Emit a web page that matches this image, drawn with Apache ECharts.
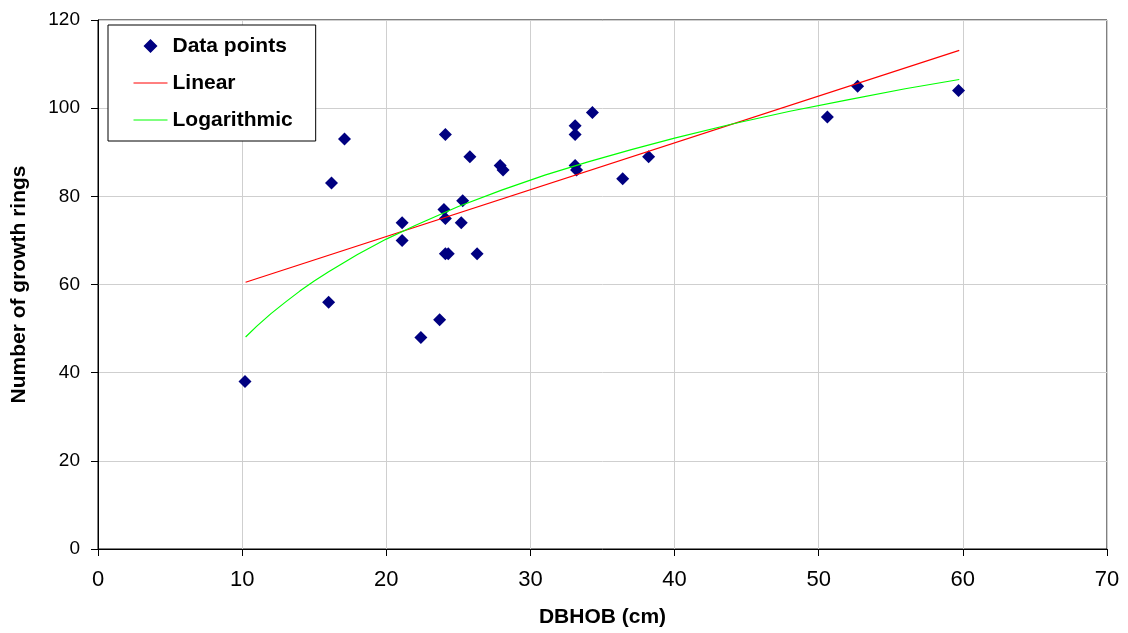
<!DOCTYPE html>
<html><head><meta charset="utf-8">
<script src="https://cdn.jsdelivr.net/npm/echarts@6/dist/echarts.min.js"></script>
<style>html,body{margin:0;padding:0;background:#fff;overflow:hidden}#c{width:1128px;height:633px}</style>
</head><body><div id="c"></div>
<script>
// Data points: DBHOB (cm) and number of growth rings
const dbhob = [10.2, 16.0, 16.2, 17.1, 21.1, 21.1, 22.4, 23.7, 24.1, 24.0, 24.1, 24.1, 24.3, 25.2, 25.3, 25.8, 26.3, 27.9, 28.1, 33.1, 33.1, 33.1, 33.2, 34.3, 36.4, 38.2, 50.6, 52.7, 59.7];
const rings = [38, 56, 83, 93, 74, 70, 48, 52, 94, 77, 75, 67, 67, 74, 79, 89, 67, 87, 86, 96, 94, 87, 86, 99, 84, 89, 98, 105, 104];

// Linear trend line (read end points)
const linearX = [10.24, 59.75];
const linearY = [60.5, 113.1];

// Logarithmic trend line
const logX = [10.24, 11, 12, 13, 14, 15, 16, 18, 20, 22, 25, 28, 31, 34, 37, 40, 44, 48, 52, 56, 59.75];
const logY = [48.1, 50.5, 53.4, 56.0, 58.5, 60.8, 62.9, 66.8, 70.3, 73.4, 77.7, 81.4, 84.8, 87.8, 90.6, 93.2, 96.4, 99.3, 101.9, 104.4, 106.5];

const seriesNames = ['Data points', 'Linear', 'Logarithmic'];
const xTitle = 'DBHOB (cm)';
const yTitle = 'Number of growth rings';

const FONT = "'Liberation Sans', Arial, sans-serif";
const zip = (a, b) => a.map((v, i) => [v, b[i]]);

const chart = echarts.init(document.getElementById('c'), null, {renderer: 'canvas'});
chart.setOption({
  animation: false,
  backgroundColor: '#fff',
  textStyle: {fontFamily: FONT},
  grid: {left: 98, right: 21, top: 20, bottom: 79, show: true, borderColor: '#000', borderWidth: 1, backgroundColor: 'transparent'},
  legend: {
    left: 108, top: 25,
    orient: 'vertical',
    backgroundColor: '#fff',
    borderColor: '#000', borderWidth: 1, borderRadius: 0,
    padding: [10, 23, 10, 25],
    itemWidth: 34, itemHeight: 14, itemGap: 15,
    textStyle: {fontFamily: FONT, fontSize: 21, fontWeight: 'bold', color: '#000', lineHeight: 22},
    data: [
      {name: seriesNames[0], icon: 'path://M0,0 L0.01,0 M34,14 L33.99,14 M17,0 L24,7 L17,14 L10,7 Z', itemStyle: {color: '#000080', borderWidth: 0}},
      {name: seriesNames[1], icon: 'line', itemStyle: {color: '#ff0000', borderColor: '#ff0000', borderWidth: 1}},
      {name: seriesNames[2], icon: 'line', itemStyle: {color: '#00ff00', borderColor: '#00ff00', borderWidth: 1}}
    ]
  },
  xAxis: {
    type: 'value', min: 0, max: 70, interval: 10,
    name: xTitle, nameLocation: 'middle', nameGap: 58,
    nameTextStyle: {fontFamily: FONT, fontSize: 21, fontWeight: 'bold', color: '#000'},
    axisLine: {show: true, onZero: false, lineStyle: {color: '#000', width: 1}},
    axisTick: {show: true, inside: false, length: 7, lineStyle: {color: '#000'}},
    axisLabel: {fontFamily: FONT, fontSize: 22, color: '#000', margin: 20},
    splitLine: {show: true, lineStyle: {color: '#cfcfcf', width: 1}}
  },
  yAxis: {
    type: 'value', min: 0, max: 120, interval: 20,
    name: yTitle, nameLocation: 'middle', nameGap: 68, nameRotate: 90,
    nameTextStyle: {fontFamily: FONT, fontSize: 21, fontWeight: 'bold', color: '#000'},
    axisLine: {show: true, onZero: false, lineStyle: {color: '#000', width: 1}},
    axisTick: {show: true, inside: false, length: 7, lineStyle: {color: '#000'}},
    axisLabel: {fontFamily: FONT, fontSize: 19, color: '#000', margin: 18},
    splitLine: {show: true, lineStyle: {color: '#cfcfcf', width: 1}}
  },
  series: [
    {
      name: seriesNames[0], type: 'scatter', symbol: 'diamond', symbolSize: 13,
      itemStyle: {color: '#000080', opacity: 1},
      data: zip(dbhob, rings), z: 2
    },
    {
      name: seriesNames[1], type: 'line', showSymbol: false, symbol: 'none',
      lineStyle: {color: '#ff0000', width: 1.2}, itemStyle: {color: '#ff0000'},
      data: zip(linearX, linearY), z: 3
    },
    {
      name: seriesNames[2], type: 'line', showSymbol: false, symbol: 'none', smooth: false,
      lineStyle: {color: '#00ff00', width: 1.2}, itemStyle: {color: '#00ff00'},
      data: zip(logX, logY), z: 3
    }
  ]
});
</script>
</body></html>
